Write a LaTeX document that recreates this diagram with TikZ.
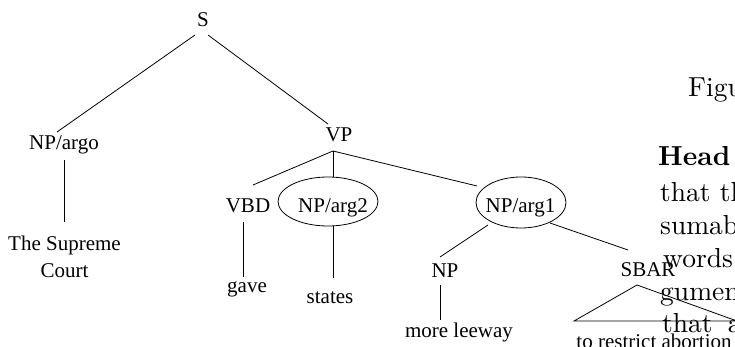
\documentclass[tikz,border=0pt]{standalone}
\usepackage{fontspec}
\newfontfamily\treef{Liberation Serif}
\newfontfamily\bodyf{lmroman10-regular.otf}[BoldFont=lmroman10-bold.otf]
\usetikzlibrary{shapes.geometric}
\begin{document}
\begin{tikzpicture}[x=1pt,y=-1pt,
  lbl/.style={font=\treef\fontsize{21}{27}\selectfont, inner sep=0pt, anchor=base},
  body/.style={font=\bodyf\fontsize{27.5}{33}\selectfont, inner sep=0pt, anchor=base west},
  edge/.style={line width=0.8pt},
  ell/.style={ellipse, draw, line width=0.8pt, inner sep=0pt}]
\useasboundingbox (0,0) rectangle (735,347);
\clip (0,0) rectangle (735,347);

% tree labels
\node[lbl] (S) at (203,27) {S};
\node[lbl] (npargo) at (64,150) {NP/argo};
\node[lbl] (vp) at (339,142) {VP};
\node[lbl] (vbd) at (248,213) {VBD};
\node[ell, minimum width=100pt, minimum height=49pt] (arg2) at (328,201.5) {};
\node[lbl] (arg2t) at (333,213) {NP/arg2};
\node[ell, minimum width=90pt, minimum height=51pt] (arg1) at (521,202.5) {};
\node[lbl] (arg1t) at (520.5,213) {NP/arg1};
\node[lbl] (np) at (445,277) {NP};
\node[lbl] (sbar) at (648,276) {SBAR};
\node[lbl, align=center] (tsc) at (64.5,277) {The Supreme\\Court};
\node[lbl] (gave) at (247,292) {gave};
\node[lbl] (states) at (330,303) {states};
\node[lbl] (leeway) at (459,337) {more leeway};
\node[lbl] (abort) at (654,348) {to restrict abortion};

% connector ports
\coordinate (S-l) at (195,35);
\coordinate (S-r) at (208,35);
\coordinate (npargo-t) at (57,132);
\coordinate (npargo-b) at (64,160);
\coordinate (tsc-t) at (64,222);
\coordinate (vp-t) at (328,124);
\coordinate (vp-b) at (333,151);
\coordinate (vbd-t) at (253,185);
\coordinate (vbd-b) at (243,222);
\coordinate (gave-t) at (243,277);
\coordinate (arg2-t) at (333,177);
\coordinate (arg2-b) at (333,226);
\coordinate (states-t) at (333,278);
\coordinate (arg1-t) at (477,186);
\coordinate (arg1-bl) at (488,225);
\coordinate (arg1-br) at (550,223);
\coordinate (np-t) at (440,257);
\coordinate (np-b) at (440,285);
\coordinate (leeway-t) at (440,320);
\coordinate (sbar-t) at (628,250);
\coordinate (tri-a) at (637,285);
\coordinate (tri-l) at (574,321);
\coordinate (tri-r) at (737,321);

\draw[edge] (S-l) -- (npargo-t);
\draw[edge] (S-r) -- (vp-t);
\draw[edge] (npargo-b) -- (tsc-t);
\draw[edge] (vp-b) -- (vbd-t);
\draw[edge] (vp-b) -- (arg2-t);
\draw[edge] (vp-b) -- (arg1-t);
\draw[edge] (vbd-b) -- (gave-t);
\draw[edge] (arg2-b) -- (states-t);
\draw[edge] (arg1-bl) -- (np-t);
\draw[edge] (arg1-br) -- (sbar-t);
\draw[edge] (np-b) -- (leeway-t);
\draw[edge] (tri-a) -- (tri-l) -- (tri-r) -- cycle;

% overlapping body text
\node[body] (fig) at (688,97) {Figu};
\node[body, font=\bodyf\bfseries\fontsize{27.5}{33}\selectfont] (head) at (658,166) {Head};
\node[body] (l1) at (660,201) {that th};
\node[body] (l2) at (660,234) {sumab};
\node[body] (l3) at (663,267) {words};
\node[body] (l4) at (660,300) {gumen};
\node[body] (l5) at (662,332) {that\hspace{6pt} a};
\end{tikzpicture}
\end{document}
